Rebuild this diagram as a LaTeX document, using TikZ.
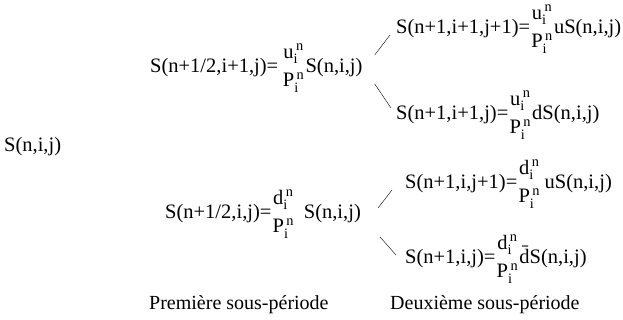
\documentclass[tikz,border=0pt]{standalone}
\usepackage{fontspec}
\setmainfont{Liberation Serif}
\usepackage{amsmath}
\usepackage{tikz}

\newcommand{\rap}[1]{$\genfrac{}{}{0pt}{0}{\mathrm{#1}_{\mathrm{i}}^{\,\mathrm{n}}\rule[-3pt]{0pt}{3pt}}{\mathrm{P}_{\mathrm{i}}^{\,\mathrm{n}}}$}

\begin{document}
\begin{tikzpicture}[x=1pt, y=-1pt,
        formule/.style={anchor=west, inner sep=0pt, font=\fontsize{20.5}{24}\selectfont},
        titre/.style={anchor=west, inner sep=0pt, font=\fontsize{20}{24}\selectfont}]
        \useasboundingbox (0,0) rectangle (623,320);

        \node[formule] (racine) at (4,147) {S(n,i,j)};

        % premiere sous-periode
        \node[formule] (hu) at (150,68) {S(n+1/2,i+1,j)=\,\rap{u}S(n,i,j)};
        \node[formule] (hd) at (165,214) {S(n+1/2,i,j)=\rap{d}\, S(n,i,j)};

        % deuxieme sous-periode
        \node[formule] (uu) at (396,29) {S(n+1,i+1,j+1)=\rap{u}uS(n,i,j)};
        \node[formule] (ud) at (396,115) {S(n+1,i+1,j)=\rap{u}dS(n,i,j)};
        \node[formule] (du) at (405,184) {S(n+1,i,j+1)=\rap{d}\,uS(n,i,j)};
        \node[formule] (dd) at (405,259) {S(n+1,i,j)=\rap{d}\={d}S(n,i,j)};

        \draw ([shift={(12,-13)}]hu.east) -- ([shift={(-6,6)}]uu.west);
        \draw ([shift={(12,16)}]hu.east) -- ([shift={(-5,-7)}]ud.west);
        \draw ([shift={(17,-6)}]hd.east) -- ([shift={(-13,6)}]du.west);
        \draw ([shift={(19,23)}]hd.east) -- ([shift={(-9,-4)}]dd.west);

        \node[titre] (p1) at (149,305) {Première sous-période};
        \node[titre] (p2) at (390,305) {Deuxième sous-période};
    \end{tikzpicture}
\end{document}
